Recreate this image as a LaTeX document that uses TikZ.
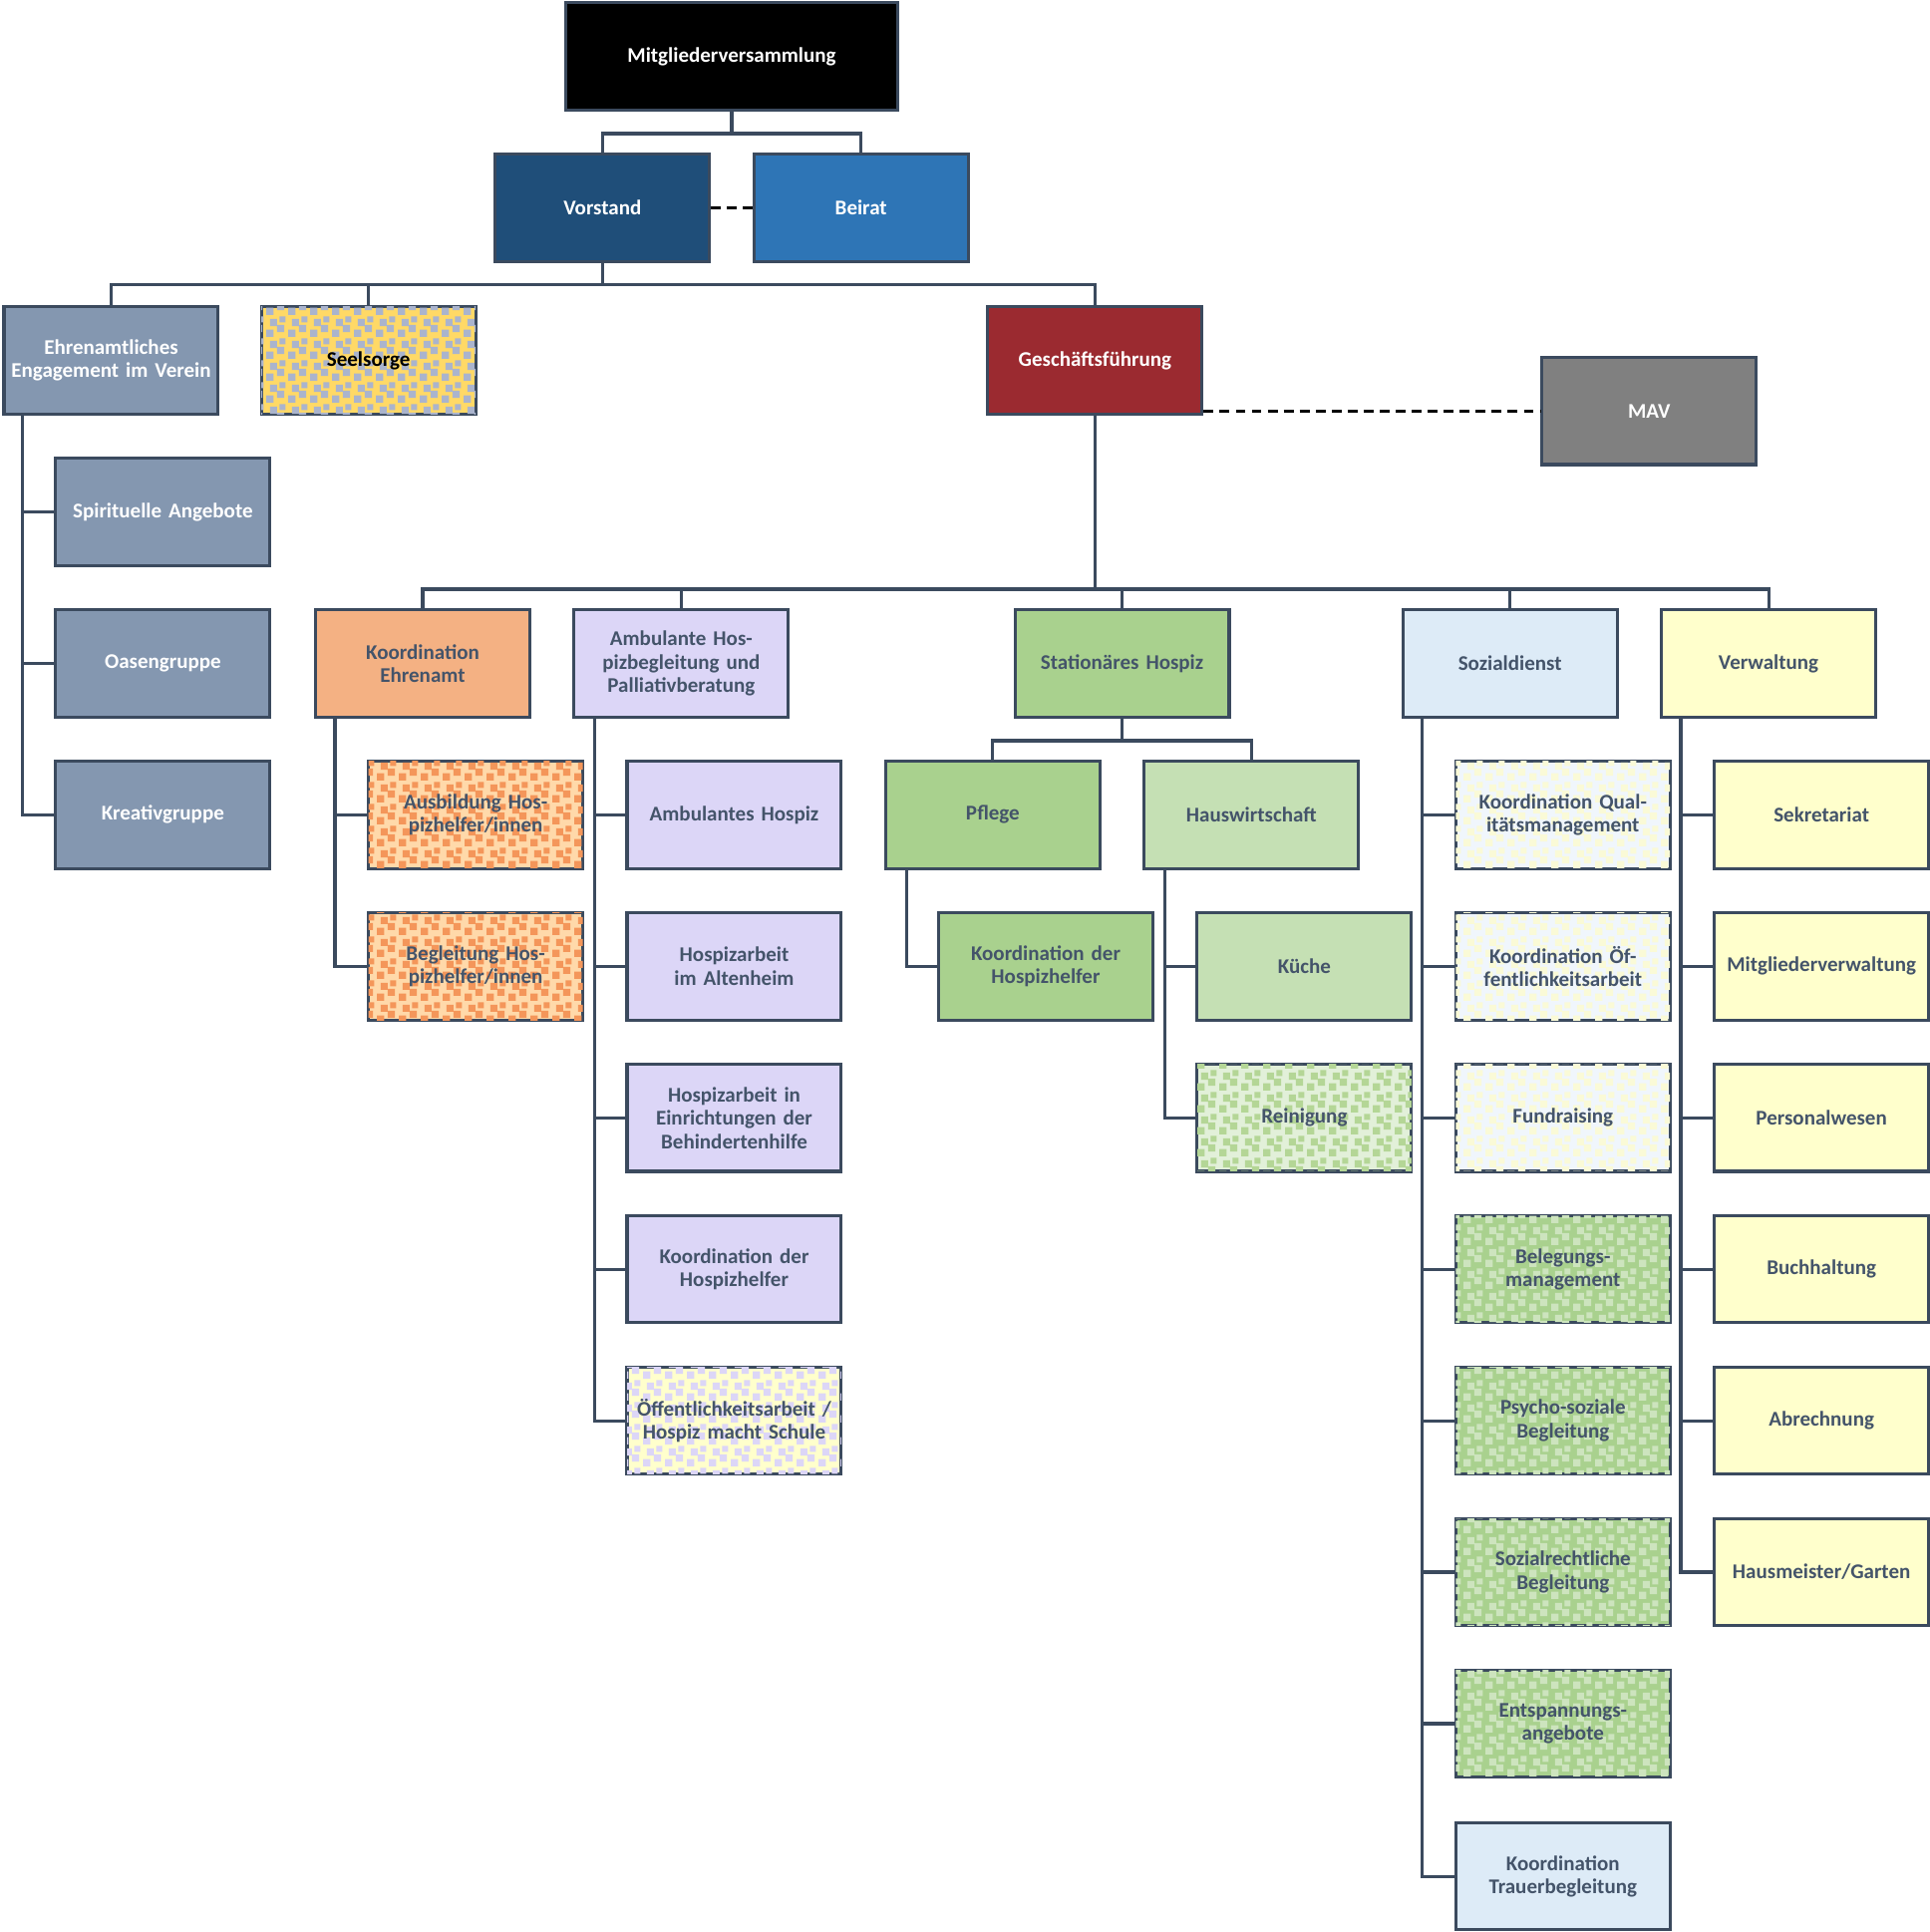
\documentclass[tikz,border=0pt]{standalone}
\usepackage{fontspec}
\setmainfont{Carlito}
\usetikzlibrary{patterns}
\pgfdeclarepatternformonly{checks}{\pgfpointorigin}{\pgfpoint{18pt}{18pt}}{\pgfpoint{18pt}{18pt}}{%
\pgfpathrectangle{\pgfpoint{1pt}{1pt}}{\pgfpoint{6pt}{6pt}}%
\pgfpathrectangle{\pgfpoint{10pt}{5pt}}{\pgfpoint{6pt}{6pt}}%
\pgfpathrectangle{\pgfpoint{4pt}{10pt}}{\pgfpoint{6pt}{6pt}}%
\pgfpathrectangle{\pgfpoint{12pt}{13pt}}{\pgfpoint{5pt}{5pt}}%
\pgfusepath{fill}}
\definecolor{ln}{HTML}{3B4A5E}
\definecolor{txt}{HTML}{44546A}
\definecolor{cvo}{HTML}{1F4E79}
\definecolor{cbe}{HTML}{2E75B6}
\definecolor{cgr}{HTML}{8497B0}
\definecolor{cye}{HTML}{FFD966}
\definecolor{cyp}{HTML}{AAB4CD}
\definecolor{cgf}{HTML}{9B2A30}
\definecolor{cmav}{HTML}{808080}
\definecolor{cor}{HTML}{F4B183}
\definecolor{corl}{HTML}{FFD9AA}
\definecolor{corp}{HTML}{F4965A}
\definecolor{cla}{HTML}{DCD6F7}
\definecolor{cgn}{HTML}{A9D18E}
\definecolor{cgl}{HTML}{C5E0B4}
\definecolor{cgll}{HTML}{E2F0D9}
\definecolor{cgp}{HTML}{B4D696}
\definecolor{cgq}{HTML}{CDE4BE}
\definecolor{cbl}{HTML}{DDEBF7}
\definecolor{cbll}{HTML}{F0F6FC}
\definecolor{cyl}{HTML}{FFFFCC}
\definecolor{cylp}{HTML}{FAFAD7}
\tikzset{
 bx/.style={draw=ln,line width=2.5pt,anchor=north west,minimum width=174pt,minimum height=87pt,inner sep=1pt,
   align=center,text width=172pt,font=\fontsize{17}{19}\selectfont\bfseries,text=txt},
 wt/.style={bx,text=white},
 conn/.style={draw=ln,line width=2.5pt},
 dsh/.style={draw=black,line width=2.5pt,dash pattern=on 8pt off 5pt},
 pat/.style 2 args={fill=#1,postaction={pattern=checks,pattern color=#2}},
}
\begin{document}
\begin{tikzpicture}[x=1pt,y=-1pt]
\useasboundingbox[fill=white] (0,0) rectangle (1567,1569);
% top
\node[wt,fill=black,minimum width=270pt,text width=268pt] (mv) at (458,1) {Mitgliederversammlung};
\node[wt,fill=cvo] (vo) at (401,124) {Vorstand};
\node[wt,fill=cbe] (be) at (611,124) {Beirat};
\node[wt,fill=cgr] (eh) at (2,248) {Ehrenamtliches Engagement im Verein};
\node[bx,text=black,pat={cye}{cyp}] (se) at (211,248) {Seelsorge};
\node[wt,fill=cgf] (gf) at (801,248) {Geschäftsführung};
\node[wt,fill=cmav] (mav) at (1251,289) {MAV};
% Ehrenamt children
\node[wt,fill=cgr] (sp) at (44,371) {Spirituelle Angebote};
\node[wt,fill=cgr] (oa) at (44,494) {Oasengruppe};
\node[wt,fill=cgr] (kr) at (44,617) {Kreativgruppe};
% row
\node[bx,fill=cor] (ke) at (255,494) {Koordination\\Ehrenamt};
\node[bx,fill=cla] (am) at (465,494) {Ambulante Hospizbegleitung und Palliativberatung};
\node[bx,fill=cgn] (st) at (823,494) {Stationäres Hospiz};
\node[bx,fill=cbl] (so) at (1138,494) {Sozialdienst};
\node[bx,fill=cyl] (ve) at (1348,494) {Verwaltung};
% KE children
\node[bx,pat={corl}{corp}] (k1) at (298,617) {Ausbildung Hospizhelfer/innen};
\node[bx,pat={corl}{corp}] (k2) at (298,740) {Begleitung Hospizhelfer/innen};
% Ambulant children
\node[bx,fill=cla] (a1) at (508,617) {Ambulantes Hospiz};
\node[bx,fill=cla] (a2) at (508,740) {Hospizarbeit\\im Altenheim};
\node[bx,fill=cla] (a3) at (508,863) {Hospizarbeit in Einrichtungen der Behindertenhilfe};
\node[bx,fill=cla] (a4) at (508,986) {Koordination der Hospizhelfer};
\node[bx,pat={cyl}{cla}] (a5) at (508,1109) {Öffentlichkeitsarbeit / Hospiz macht Schule};
% Stationaer
\node[bx,fill=cgn] (pf) at (718,617) {Pflege};
\node[bx,fill=cgl] (hw) at (928,617) {Hauswirtschaft};
\node[bx,fill=cgn] (pk) at (761,740) {Koordination der Hospizhelfer};
\node[bx,fill=cgl] (ku) at (971,740) {Küche};
\node[bx,pat={cgll}{cgp}] (re) at (971,863) {Reinigung};
% Sozialdienst
\node[bx,pat={cbll}{cylp}] (s1) at (1181,617) {Koordination Qualitätsmanagement};
\node[bx,pat={cbll}{cylp}] (s2) at (1181,740) {Koordination Öffentlichkeitsarbeit};
\node[bx,pat={cbll}{cylp}] (s3) at (1181,863) {Fundraising};
\node[bx,pat={cgn}{cgq}] (s4) at (1181,986) {Belegungs-\\management};
\node[bx,pat={cgn}{cgq}] (s5) at (1181,1109) {Psycho-soziale Begleitung};
\node[bx,pat={cgn}{cgq}] (s6) at (1181,1232) {Sozialrechtliche Begleitung};
\node[bx,pat={cgn}{cgq}] (s7) at (1181,1355) {Entspannungs-\\angebote};
\node[bx,fill=cbl] (s8) at (1181,1479) {Koordination Trauerbegleitung};
% Verwaltung
\node[bx,fill=cyl] (v1) at (1391,617) {Sekretariat};
\node[bx,fill=cyl] (v2) at (1391,740) {Mitgliederverwaltung};
\node[bx,fill=cyl] (v3) at (1391,863) {Personalwesen};
\node[bx,fill=cyl] (v4) at (1391,986) {Buchhaltung};
\node[bx,fill=cyl] (v5) at (1391,1109) {Abrechnung};
\node[bx,fill=cyl] (v6) at (1391,1232) {Hausmeister/Garten};
% connectors
\draw[conn] (mv.south) -- ++(0,18) -| (vo.north);
\draw[conn] (mv.south) ++(0,18) -| (be.north);
\draw[dsh] (vo.east) -- (be.west);
\draw[conn] (vo.south) -- ++(0,18) -| (eh.north);
\draw[conn] (vo.south) ++(0,18) -| (se.north);
\draw[conn] (vo.south) ++(0,18) -| (gf.north);
\draw[dsh] ([yshift=-41pt]gf.east) -- (mav.west);
\draw[conn] (gf.south) -- ++(0,141) -| (ke.north);
\foreach \n in {am,st,so,ve} \draw[conn] (gf.south) ++(0,141) -| (\n.north);
\foreach \n in {sp,oa,kr} \draw[conn] ([xshift=16pt]eh.south west) |- (\n.west);
\foreach \n in {k1,k2} \draw[conn] ([xshift=17pt]ke.south west) |- (\n.west);
\foreach \n in {a1,a2,a3,a4,a5} \draw[conn] ([xshift=18pt]am.south west) |- (\n.west);
\draw[conn] (st.south) -- ++(0,18) -| (pf.north);
\draw[conn] (st.south) ++(0,18) -| (hw.north);
\draw[conn] ([xshift=18pt]pf.south west) |- (pk.west);
\foreach \n in {ku,re} \draw[conn] ([xshift=18pt]hw.south west) |- (\n.west);
\foreach \n in {s1,s2,s3,s4,s5,s6,s7,s8} \draw[conn] ([xshift=17pt]so.south west) |- (\n.west);
\foreach \n in {v1,v2,v3,v4,v5,v6} \draw[conn] ([xshift=17pt]ve.south west) |- (\n.west);
\end{tikzpicture}
\end{document}
